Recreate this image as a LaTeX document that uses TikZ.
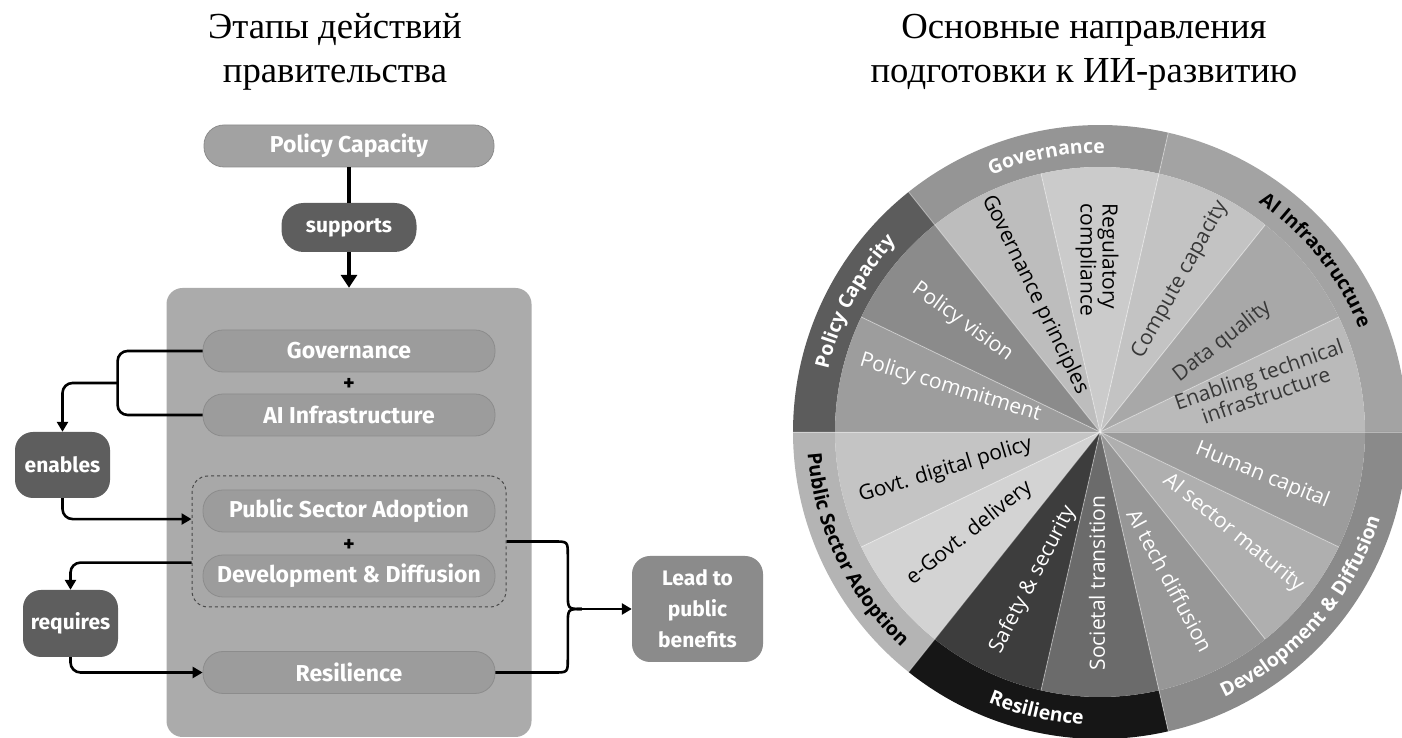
\documentclass[tikz,border=0pt]{standalone}
\usepackage{fontspec}
\setmainfont{Liberation Serif}
\newfontfamily\diagfont{Fira Sans}
\newfontfamily\wheelfont{Open Sans}
\usetikzlibrary{arrows.meta,calc,decorations.text}
\newcommand\ringlabfont{\wheelfont\bfseries\fontsize{19.5}{19.5}\selectfont}
% left diagram colours
\definecolor{bigbg}{HTML}{ABABAB}
\definecolor{pillgray}{HTML}{9C9C9C}
\definecolor{pillborder}{HTML}{8C8C8C}
\definecolor{pcgray}{HTML}{A2A2A2}
\definecolor{verbgray}{HTML}{5E5E5E}
\definecolor{leadgray}{HTML}{8B8B8B}
\definecolor{dashfill}{HTML}{A8A8A8}
% ring colours
\definecolor{rGov}{HTML}{959595}
\definecolor{rAI}{HTML}{A3A3A3}
\definecolor{rPC}{HTML}{5C5C5C}
\definecolor{rPSA}{HTML}{B4B4B4}
\definecolor{rRes}{HTML}{161616}
\definecolor{rDD}{HTML}{8A8A8A}
% wedge colours (counter-clockwise from 0 deg)
\definecolor{wa}{HTML}{BABABA}
\definecolor{wb}{HTML}{A8A8A8}
\definecolor{wc}{HTML}{C3C3C3}
\definecolor{wd}{HTML}{CBCBCB}
\definecolor{we}{HTML}{BDBDBD}
\definecolor{wf}{HTML}{8B8B8B}
\definecolor{wg}{HTML}{9D9D9D}
\definecolor{wh}{HTML}{C4C4C4}
\definecolor{wi}{HTML}{D3D3D3}
\definecolor{wj}{HTML}{3D3D3D}
\definecolor{wk}{HTML}{6B6B6B}
\definecolor{wl}{HTML}{979797}
\definecolor{wm}{HTML}{AFAFAF}
\definecolor{wn}{HTML}{9C9C9C}
\definecolor{darktxt}{HTML}{383838}
\begin{document}
\begin{tikzpicture}[x=1pt,y=1pt,
  titletext/.style={font=\fontsize{36.7}{44}\selectfont, anchor=base, inner sep=0pt},
  pill/.style={rounded corners=20pt, fill=pillgray, draw=pillborder, line width=0.8pt,
    minimum width=292pt, minimum height=42pt, text=white, inner sep=0pt,
    font=\diagfont\bfseries\fontsize{23}{25}\selectfont},
  verbbox/.style={rounded corners=18pt, fill=verbgray, text=white, inner sep=0pt,
    font=\diagfont\bfseries\fontsize{21}{23}\selectfont},
  plussign/.style={font=\diagfont\bfseries\fontsize{22}{24}\selectfont, inner sep=0pt},
  conn/.style={line width=2.6pt, rounded corners=10pt},
  arr/.style={conn, -{Triangle[length=10pt,width=11pt]}},
  thickconn/.style={line width=4pt},
  wlab/.style={font=\wheelfont\fontsize{21}{22}\selectfont, inner sep=0pt},
  sepline/.style={white, opacity=0.4, line width=0.9pt},
]
\useasboundingbox (0,0) rectangle (1402,738);

% ---------------- titles ----------------
\node[titletext] (t1a) at (335,699) {Этапы действий};
\node[titletext] (t1b) at (335,655) {правительства};
\node[titletext] (t2a) at (1084,699) {Основные направления};
\node[titletext] (t2b) at (1084,655) {подготовки к ИИ-развитию};

% ---------------- left diagram ----------------
\node[pill, fill=pcgray, minimum width=290pt] (pc) at (349,592) {Policy Capacity};
\node[verbbox, minimum width=135pt, minimum height=49pt, rounded corners=22pt] (sup) at (349,510.5) {supports};
\node[fill=bigbg, rounded corners=16pt, minimum width=365pt, minimum height=449pt, inner sep=0pt] (big) at (349,225.5) {};
\node[fill=dashfill, draw=black!72, dashed, line width=1pt, rounded corners=16pt,
      minimum width=314pt, minimum height=131pt, inner sep=0pt] (dbox) at (349,196.5) {};
\node[pill] (gov) at (349,387) {Governance};
\node[plussign] (p1) at (349,354) {+};
\node[pill] (ai) at (349,323) {AI Infrastructure};
\node[pill] (psa) at (349,227) {Public Sector Adoption};
\node[plussign] (p2) at (349,193) {+};
\node[pill] (dd) at (349,162) {Development \& Diffusion};
\node[pill] (res) at (349,65.5) {Resilience};
\node[verbbox, minimum width=95pt, minimum height=66pt] (en) at (62.5,273) {enables};
\node[verbbox, minimum width=95pt, minimum height=67pt] (rq) at (70.5,114.5) {requires};
\node[verbbox, fill=leadgray, minimum width=131pt, minimum height=106pt, align=center,
      font=\diagfont\bfseries\fontsize{21}{31}\selectfont] (lead) at (697.5,129) {Lead to\\public\\benefits};

\draw[thickconn] (pc.south) -- (sup.north);
\draw[thickconn, -{Triangle[length=13pt,width=16pt]}] (sup.south) -- (big.north);

\draw[conn] (gov.west) -- ++(-85,0) |- (ai.west);
\draw[arr] ($(gov.west)!0.5!(ai.west)+(-85,0)$) -| (en.north);
\draw[arr] (en.south) |- ($(dbox.north west)!0.33!(dbox.south west)$);
\draw[arr] ($(dbox.north west)!0.66!(dbox.south west)$) -| (rq.north);
\draw[arr] (rq.south) |- (res.west);

\coordinate (brc) at ($(lead.west)+(-64,0)$);
\draw[line width=2.6pt] (dbox.east) -- ($(dbox.east -| brc)+(-14,0)$)
   .. controls ($(dbox.east -| brc)$) .. ($(dbox.east -| brc)+(0,-14)$)
   -- ($(brc)+(0,16)$) .. controls (brc) .. ($(brc)+(14,0)$);
\draw[line width=2.6pt] (res.east) -- ($(res.east -| brc)+(-14,0)$)
   .. controls ($(res.east -| brc)$) .. ($(res.east -| brc)+(0,14)$)
   -- ($(brc)+(0,-16)$) .. controls (brc) .. ($(brc)+(14,0)$);
\draw[arr] ($(brc)+(14,0)$) -- (lead.west);

% ---------------- wheel ----------------
\begin{scope}[shift={(1100,306)}]
  \coordinate (wc) at (0,0);
  \foreach \a/\b/\c in {0/77.142857/rAI, 77.142857/128.571429/rGov, 128.571429/180/rPC,
                        180/231.428571/rPSA, 231.428571/282.857143/rRes, 282.857143/360/rDD}{
    \fill[\c] (\a:265pt) -- (\a:307pt) arc[start angle=\a, end angle=\b, radius=307pt]
      -- (\b:265pt) arc[start angle=\b, end angle=\a, radius=265pt] -- cycle;
  }
  \foreach \i/\c in {0/wa,1/wb,2/wc,3/wd,4/we,5/wf,6/wg,7/wh,8/wi,9/wj,10/wk,11/wl,12/wm,13/wn}{
    \pgfmathsetmacro\sa{\i*360/14}
    \pgfmathsetmacro\sb{(\i+1)*360/14}
    \fill[\c] (wc) -- (\sa:265pt) arc[start angle=\sa, end angle=\sb, radius=265pt] -- cycle;
  }
  \foreach \i in {0,...,13}{
    \draw[sepline] (wc) -- ({\i*360/14}:265pt);
  }
  \foreach \a in {0,77.142857,128.571429,180,231.428571,282.857143}{
    \draw[sepline] (\a:265pt) -- (\a:307pt);
  }

  % ring labels
  \path[decorate, decoration={text along path, text align=center,
      text={|\ringlabfont\color{white}|Governance}}]
      (141:279pt) arc[start angle=141, end angle=61, radius=279pt];
  \path[decorate, decoration={text along path, text align=center,
      text={|\ringlabfont\color{black}|AI Infrastructure}}]
      (78.57:279pt) arc[start angle=78.57, end angle=-1.43, radius=279pt];
  \path[decorate, decoration={text along path, text align=center,
      text={|\ringlabfont\color{white}|Policy Capacity}}]
      (192:279pt) arc[start angle=192, end angle=112, radius=279pt];
  \path[decorate, decoration={text along path, text align=center,
      text={|\ringlabfont\color{black}|Public Sector Adoption}}]
      (165.71:293pt) arc[start angle=165.71, end angle=245.71, radius=293pt];
  \path[decorate, decoration={text along path, text align=center,
      text={|\ringlabfont\color{white}|Resilience}}]
      (217.14:293pt) arc[start angle=217.14, end angle=297.14, radius=293pt];
  \path[decorate, decoration={text along path, text align=center,
      text={|\ringlabfont\color{white}|Development {\&} Diffusion}}]
      (279:293pt) arc[start angle=279, end angle=359, radius=293pt];

  % wedge labels
  \node[wlab, text=darktxt, rotate=19, align=center] (l1) at (16.2:169pt) {Enabling technical\\infrastructure};
  \node[wlab, text=darktxt, rotate=38] (l2) at (36.4:152pt) {Data quality};
  \node[wlab, text=darktxt, rotate=61] (l3) at (62.2:172pt) {Compute capacity};
  \node[wlab, text=black, rotate=-90, align=left] (l4) at (91:172pt) {Regulatory\\compliance};
  \node[wlab, text=black, rotate=-64] (l5) at (115.4:152pt) {Governance principles};
  \node[wlab, text=white, rotate=-36] (l6) at (141.4:176pt) {Policy vision};
  \node[wlab, text=white, rotate=-17] (l7) at (163.6:156pt) {Policy commitment};
  \node[wlab, text=black, rotate=17] (l8) at (193.9:159pt) {Govt. digital policy};
  \node[wlab, text=black, rotate=38.5] (l9) at (217.8:165pt) {e-Govt. delivery};
  \node[wlab, text=white, rotate=62.5] (l10) at (245.6:162pt) {Safety \& security};
  \node[wlab, text=white, rotate=90] (l11) at (268.9:151pt) {Societal transition};
  \node[wlab, text=white, rotate=-62] (l12) at (295.3:164pt) {AI tech diffusion};
  \node[wlab, text=white, rotate=-39] (l13) at (322.8:167pt) {AI sector maturity};
  \node[wlab, text=white, rotate=-22] (l14) at (345:168pt) {Human capital};
\end{scope}
\end{tikzpicture}
\end{document}
